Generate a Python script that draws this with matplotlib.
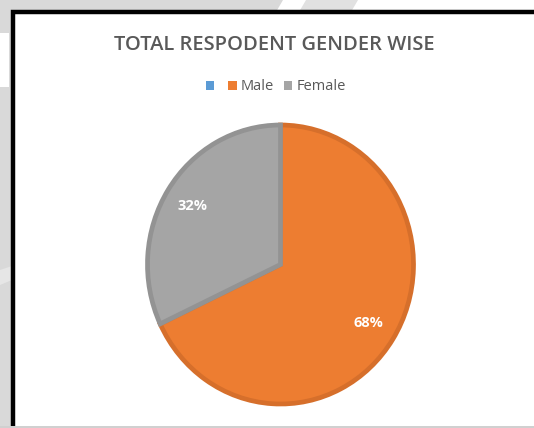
import matplotlib.pyplot as plt
from matplotlib.patches import Rectangle, Polygon, Patch

# data
categories = ['', 'Male', 'Female']
shares = [0, 68, 32]
colors = ['#5B9BD5', '#ED7D31', '#A5A5A5']
edge_colors = ['#4A88C2', '#D66F2B', '#939393']

W, H = 534, 428
fig = plt.figure(figsize=(W / 100, H / 100), dpi=100)
fig.patch.set_facecolor('white')


def px(x, y):
    # pixel coords (top-left origin) -> figure fraction
    return (x / W, 1 - y / H)


# faint background outside the chart frame
bg = [
    ([(0, 0), (283, 0), (276, 12), (0, 12)], '#D9D9D9'),
    ([(306, 0), (358, 0), (351, 12), (299, 12)], '#E1E1E1'),
    ([(0, 0), (12, 0), (12, H), (0, H)], '#D9D9D9'),
    ([(0, 33), (9, 33), (9, 87), (0, 87)], 'white'),
    ([(0, 270), (12, 266), (12, 280), (0, 285)], '#E6E6E6'),
    ([(0, 426), (W, 426), (W, H), (0, H)], '#D0D0D0'),
]
for pts, c in bg:
    fig.patches.append(Polygon([px(*p) for p in pts], closed=True, transform=fig.transFigure,
                               facecolor=c, edgecolor='none', zorder=0))

# chart frame: only the left and top edges fall inside the crop
frame = Polygon([px(13, 426), px(13, 11.5), px(W + 5, 11.5)], closed=False,
                transform=fig.transFigure, facecolor='none', edgecolor='black',
                linewidth=3.2, joinstyle='miter', zorder=1)
fig.patches.append(frame)

# pie axes, centred at (280.5, 264.5) px
cx, cy, half = 280.5, 264.5, 150
rx, ry = 133.0, 139.5
ax = fig.add_axes([(cx - half) / W, (H - cy - half) / H, 2 * half / W, 2 * half / H])
ax.set_zorder(2)
ax.patch.set_alpha(0)

wedges, texts, autotexts = ax.pie(
    shares, colors=colors, startangle=90, counterclock=False,
    autopct=lambda p: f'{p:.0f}%' if p > 0 else '', pctdistance=0.78,
    wedgeprops=dict(linewidth=3.4),
    textprops=dict(color='white', fontsize=10.5, fontweight='bold', family='Open Sans'))
for w, ec in zip(wedges, edge_colors):
    w.set_edgecolor(ec)
ax.set_aspect('auto')
ax.set_xlim(-half / rx, half / rx)
ax.set_ylim(-half / ry, half / ry)
ax.axis('off')

fig.text(*px(274, 45), 'TOTAL RESPODENT GENDER WISE', ha='center', va='center',
         fontsize=14.5, fontweight='semibold', color='#595959', family='Open Sans')

handles = [Patch(facecolor=c, edgecolor='none') for c in colors]
fig.legend(handles, categories, loc='center', bbox_to_anchor=px(276, 87), ncol=3,
           frameon=False, handlelength=0.55, handleheight=0.55, handletextpad=0.3,
           columnspacing=0.7, prop=dict(family='Open Sans', size=10.5), labelcolor='#595959')

fig.savefig('out.png', dpi=100)
